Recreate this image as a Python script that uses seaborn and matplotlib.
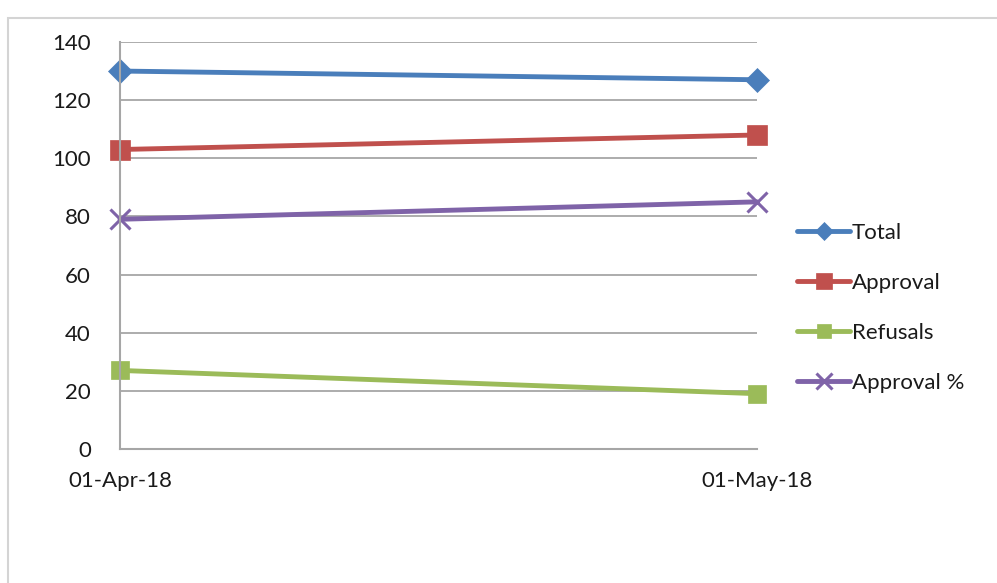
import pandas as pd
import matplotlib.pyplot as plt
import matplotlib.patches as patches
import seaborn as sns

dates = ['01-Apr-18', '01-May-18']
total = [130, 127]
approval = [103, 108]
refusals = [27, 19]
approval_pct = [79, 85]

series = ['Total', 'Approval', 'Refusals', 'Approval %']
colors = ['#4a7ebb', '#c0504d', '#9bbb59', '#7f63a8']
markers = ['D', 's', 's', 'X']
msizes = [12, 14, 13, 14]

df = pd.DataFrame({
    'DATE': dates * 4,
    'VALUE': total + approval + refusals + approval_pct,
    'SERIES': [s for s in series for _ in dates],
})

sns.set_style('white')
plt.rcParams['font.family'] = ['Lato', 'DejaVu Sans']

fig = plt.figure(figsize=(9.97, 5.83), dpi=100)
ax = fig.add_axes([0.1204, 0.23, 0.6388, 0.698])

fig.patches.append(patches.Rectangle((8 / 997, -0.1), 1.2, 1 - 18 / 583 + 0.1,
                                     transform=fig.transFigure, fill=False,
                                     edgecolor='#d4d4d4', linewidth=1.5))

sns.lineplot(data=df, x='DATE', y='VALUE', hue='SERIES', style='SERIES',
             palette=dict(zip(series, colors)), markers=dict(zip(series, markers)),
             dashes=False, linewidth=3.5, ax=ax)


def style_marker(line, c, ms):
    # Excel's "x" marker is line art, seaborn only allows the filled X
    if line.get_marker() == 'X':
        line.set_marker('x')
        line.set_markeredgewidth(2.2)
    else:
        line.set_markeredgewidth(0.5)
    line.set_markersize(ms)
    line.set_markeredgecolor(c)


for line, c, ms in zip(ax.lines, colors, msizes):
    line.set_clip_on(False)
    style_marker(line, c, ms)

ax.set_xlim(0, 1)
ax.set_ylim(0, 140)
ax.set_yticks(range(0, 141, 20))
ax.yaxis.grid(True, color='#a6a6a6', linewidth=1.3)
ax.set_axisbelow(True)
for side in ['top', 'right']:
    ax.spines[side].set_visible(False)
for side in ['left', 'bottom']:
    ax.spines[side].set_color('#a6a6a6')
    ax.spines[side].set_linewidth(1.5)
ax.tick_params(axis='y', direction='out', length=7, width=1.3, color='#a6a6a6',
               labelsize=16, labelcolor='#1a1a1a', pad=14)
ax.tick_params(axis='x', direction='inout', length=12, width=1.3, color='#a6a6a6',
               labelsize=16, labelcolor='#1a1a1a', pad=10)
ax.set_xlabel('')
ax.set_ylabel('')

handles, labels = ax.get_legend_handles_labels()
for h, c, ms in zip(handles, colors, msizes):
    style_marker(h, c, ms * 0.8)
ax.legend(handles, labels, loc='upper left', bbox_to_anchor=(788 / 997, 1 - 214 / 583),
          bbox_transform=fig.transFigure, frameon=False, fontsize=16, borderaxespad=0,
          handlelength=2.4, handletextpad=0.08, labelspacing=1.35, labelcolor='#1a1a1a')

fig.savefig('out.png', dpi=100)
